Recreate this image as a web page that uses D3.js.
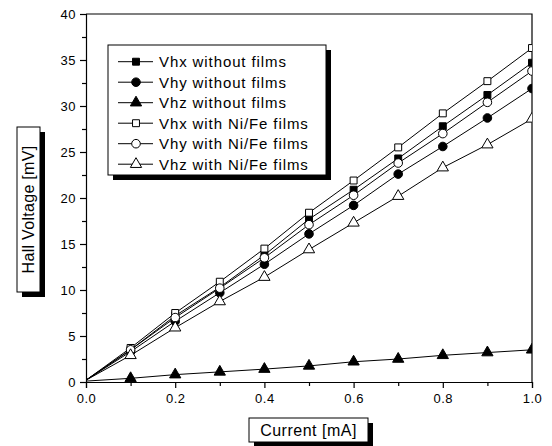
<!DOCTYPE html>
<html>
<head>
<meta charset="utf-8">
<script src="https://cdn.jsdelivr.net/npm/d3@7"></script>
<style>
  body { margin: 0; background: #fff; }
  text { font-family: "Liberation Sans", Arial, sans-serif; fill: #000; }
</style>
</head>
<body>
<div id="chart"></div>
<script>
// data
var current = [0, 0.1, 0.2, 0.3, 0.4, 0.5, 0.6, 0.7, 0.8, 0.9, 1.0];
var vhxWithout = [0.2, 3.5, 7.2, 10.3, 13.8, 17.7, 20.9, 24.3, 27.8, 31.2, 34.7];
var vhyWithout = [0.2, 3.3, 6.6, 9.7, 12.8, 16.1, 19.2, 22.6, 25.6, 28.7, 31.9];
var vhzWithout = [0.1, 0.4, 0.8, 1.1, 1.4, 1.75, 2.2, 2.5, 2.9, 3.2, 3.5];
var vhxWith = [0.2, 3.7, 7.5, 10.9, 14.5, 18.4, 21.9, 25.5, 29.2, 32.7, 36.3];
var vhyWith = [0.2, 3.5, 7.0, 10.2, 13.5, 17.1, 20.3, 23.8, 27.0, 30.4, 33.8];
var vhzWith = [0.2, 2.9, 5.9, 8.75, 11.4, 14.4, 17.3, 20.2, 23.3, 25.8, 28.6];
var seriesNames = ['Vhx without films', 'Vhy without films', 'Vhz without films',
    'Vhx with Ni/Fe films', 'Vhy with Ni/Fe films', 'Vhz with Ni/Fe films'];
var xTicks = [0, 0.2, 0.4, 0.6, 0.8, 1.0];
var yTicks = [0, 5, 10, 15, 20, 25, 30, 35, 40];

var chart_width = 552;
var chart_height = 446;
var pLeft = 86, pRight = 532, pTop = 14, pBottom = 382;

var series = [
    { name: seriesNames[0], values: vhxWithout, shape: d3.symbolSquare, fill: '#000', size: 48 },
    { name: seriesNames[1], values: vhyWithout, shape: d3.symbolCircle, fill: '#000', size: 58 },
    { name: seriesNames[2], values: vhzWithout, shape: d3.symbolTriangle, fill: '#000', size: 55 },
    { name: seriesNames[3], values: vhxWith, shape: d3.symbolSquare, fill: '#fff', size: 48 },
    { name: seriesNames[4], values: vhyWith, shape: d3.symbolCircle, fill: '#fff', size: 58 },
    { name: seriesNames[5], values: vhzWith, shape: d3.symbolTriangle, fill: '#fff', size: 55 }
];

var svg = d3.select('#chart')
    .append('svg')
    .attr('width', chart_width)
    .attr('height', chart_height);

var x_scale = d3.scaleLinear().domain([0, 1]).range([pLeft, pRight]);
var y_scale = d3.scaleLinear().domain([0, 40]).range([pBottom, pTop]);

svg.append('clipPath').attr('id', 'plot')
    .append('rect')
    .attr('x', pLeft).attr('y', pTop)
    .attr('width', pRight - pLeft).attr('height', pBottom - pTop);

// minor ticks
svg.append('g')
    .attr('transform', 'translate(0,' + pBottom + ')')
    .call(d3.axisBottom(x_scale).tickValues(d3.range(0.1, 1, 0.2)).tickSize(4).tickFormat(''))
    .call(function (g) { g.select('.domain').remove(); });
svg.append('g')
    .attr('transform', 'translate(' + pLeft + ',0)')
    .call(d3.axisLeft(y_scale).tickValues(d3.range(2.5, 40, 5)).tickSize(4).tickFormat(''))
    .call(function (g) { g.select('.domain').remove(); });

// major ticks
svg.append('g')
    .attr('transform', 'translate(0,' + pBottom + ')')
    .call(d3.axisBottom(x_scale).tickValues(xTicks).tickSize(6).tickPadding(6)
        .tickFormat(d3.format('.1f')));
svg.append('g')
    .attr('transform', 'translate(' + pLeft + ',0)')
    .call(d3.axisLeft(y_scale).tickValues(yTicks).tickSize(6).tickPadding(4));
svg.selectAll('.tick text')
    .attr('font-size', 13)
    .attr('letter-spacing', 0.5)
    .attr('font-family', '"Liberation Sans", Arial, sans-serif');
svg.selectAll('.domain, .tick line').attr('stroke', '#000').attr('stroke-width', 1.2);

// top + right frame
svg.append('path')
    .attr('d', 'M' + pLeft + ',' + pTop + 'H' + pRight + 'V' + pBottom)
    .attr('fill', 'none').attr('stroke', '#000').attr('stroke-width', 1.2);

var line = d3.line()
    .x(function (d, i) { return x_scale(current[i]); })
    .y(function (d) { return y_scale(d); });

var plot = svg.append('g').attr('clip-path', 'url(#plot)');

series.forEach(function (s) {
    plot.append('path')
        .attr('d', line(s.values))
        .attr('fill', 'none')
        .attr('stroke', '#000')
        .attr('stroke-width', 1);
    plot.selectAll(null)
        .data(s.values.slice(1))
        .enter()
        .append('path')
        .attr('d', d3.symbol().type(s.shape).size(s.size))
        .attr('transform', function (d, i) {
            return 'translate(' + x_scale(current[i + 1]) + ',' + y_scale(d) + ')';
        })
        .attr('fill', s.fill)
        .attr('stroke', '#000')
        .attr('stroke-width', 1);
});

// legend
var lx = 108, ly = 45, lw = 218, lh = 130;
svg.append('rect').attr('x', lx + 5).attr('y', ly + 5).attr('width', lw).attr('height', lh).attr('fill', '#000');
svg.append('rect').attr('x', lx).attr('y', ly).attr('width', lw).attr('height', lh)
    .attr('fill', '#fff').attr('stroke', '#000').attr('stroke-width', 1);

var legend = svg.selectAll('.legend-item')
    .data(series)
    .enter()
    .append('g')
    .attr('class', 'legend-item')
    .attr('transform', function (d, i) { return 'translate(0,' + (61.7 + i * 20.5) + ')'; });
legend.append('line')
    .attr('x1', 118).attr('x2', 153)
    .attr('stroke', '#000').attr('stroke-width', 1);
legend.append('path')
    .attr('d', function (d) { return d3.symbol().type(d.shape).size(d.size)(); })
    .attr('transform', 'translate(136,0)')
    .attr('fill', function (d) { return d.fill; })
    .attr('stroke', '#000');
legend.append('text')
    .attr('x', 159).attr('y', 5.5)
    .attr('font-size', 15)
    .attr('letter-spacing', 0.9)
    .text(function (d) { return d.name; });

// axis title boxes
function titleBox(x, y, w, h) {
    svg.append('rect').attr('x', x + 5).attr('y', y + 5).attr('width', w).attr('height', h).attr('fill', '#000');
    svg.append('rect').attr('x', x).attr('y', y).attr('width', w).attr('height', h)
        .attr('fill', '#fff').attr('stroke', '#000').attr('stroke-width', 1);
}
titleBox(249, 418, 119, 24);
svg.append('text')
    .attr('x', 308.5).attr('y', 436)
    .attr('text-anchor', 'middle')
    .attr('font-size', 16)
    .attr('letter-spacing', 0.5)
    .text('Current [mA]');

titleBox(17, 127, 23, 165);
svg.append('text')
    .attr('transform', 'translate(34,209.5) rotate(-90)')
    .attr('text-anchor', 'middle')
    .attr('font-size', 16)
    .attr('letter-spacing', 0.3)
    .text('Hall Voltage [mV]');
</script>
</body>
</html>
